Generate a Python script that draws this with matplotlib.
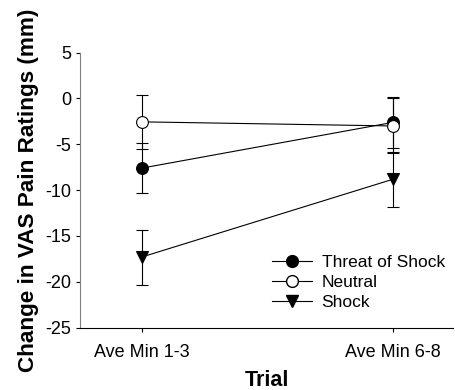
import numpy as np
import matplotlib
matplotlib.use("Agg")
import matplotlib.pyplot as plt
from matplotlib.lines import Line2D

plt.rcParams['font.family'] = ['Liberation Sans', 'DejaVu Sans']
plt.rcParams['axes.unicode_minus'] = False

# Daten
trials = ["Ave Min 1-3", "Ave Min 6-8"]
threat = [-7.6, -2.6]
threat_err = [2.7, 2.8]
neutral = [-2.55, -3.0]
neutral_err = [2.95, 3.0]
shock = [-17.3, -8.8]
shock_err = [3.0, 3.0]

fig = plt.figure(figsize=(4.55, 3.9), dpi=100)
ax = fig.add_axes([0.176, 0.160, 0.8196, 0.705])
x = np.arange(len(trials))

style = dict(color="black", lw=0.8, elinewidth=0.8, capsize=4.3, capthick=0.8,
             markersize=8.5, markeredgecolor="black", markeredgewidth=0.8)
ax.errorbar(x, shock, yerr=shock_err, marker="v", markerfacecolor="black", zorder=3, **style)
ax.errorbar(x, threat, yerr=threat_err, marker="o", markerfacecolor="black", zorder=4, **style)
ax.errorbar(x, neutral, yerr=neutral_err, marker="o", markerfacecolor="white", zorder=5, **style)

ax.set_xlim(-0.245, 1.237)
ax.set_ylim(-25, 5)
ax.set_yticks(np.arange(-25, 6, 5))
ax.set_xticks(x)
ax.set_xticklabels(trials)
ax.tick_params(labelsize=13, length=3, width=0.8)
ax.tick_params(axis="x", pad=9)
ax.spines["top"].set_visible(False)
ax.spines["right"].set_visible(False)
ax.spines["left"].set_color("#808080")
ax.spines["left"].set_linewidth(0.8)
ax.spines["bottom"].set_linewidth(0.8)

ax.set_xlabel("Trial", fontsize=15.5, fontweight="bold", labelpad=6)
ax.set_ylabel("Change in VAS Pain Ratings (mm)", fontsize=16.2, fontweight="bold", labelpad=4)

handles = [
    Line2D([], [], color="black", lw=0.8, marker="o", markersize=8.5, markerfacecolor="black"),
    Line2D([], [], color="black", lw=0.8, marker="o", markersize=8.5, markerfacecolor="white"),
    Line2D([], [], color="black", lw=0.8, marker="v", markersize=8.5, markerfacecolor="black"),
]
labels = ["Threat of Shock", "Neutral", "Shock"]
ax.legend(handles, labels, frameon=False, fontsize=12.5,
          loc="lower right", bbox_to_anchor=(0.997, 0.04), handlelength=2.3,
          handletextpad=0.55, labelspacing=0.28, borderaxespad=0)

fig.savefig("out.png", dpi=100)
